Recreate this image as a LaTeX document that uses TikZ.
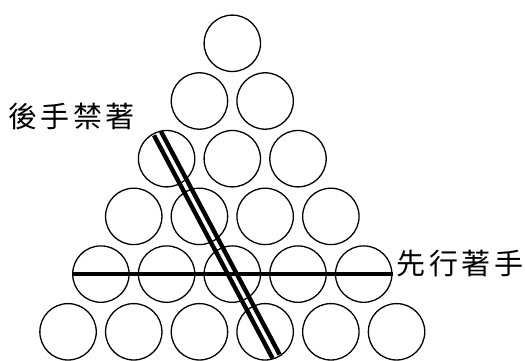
\documentclass[tikz,border=0pt]{standalone}
\usepackage{fontspec}
\newfontfamily\cjk[LetterSpace=12]{Noto Sans CJK TC}
\usetikzlibrary{calc}

\begin{document}
\begin{tikzpicture}[x=1pt,y=1pt]
  \tikzset{Ball/.style={circle, draw, line width=1.3pt, minimum size=56.4pt, inner sep=0pt}}
  \tikzset{Cue/.style={line width=4.4pt}}
  \tikzset{Label/.style={font=\cjk\fontsize{29}{29}\selectfont, inner sep=0pt}}
  \useasboundingbox (0,0) rectangle (525,361);

  \foreach \r in {1,...,6}{
    \foreach \k in {1,...,\r}{
      \node[Ball] (c-\r-\k) at ({232.3+(\k-(\r+1)/2)*65.7}, {317.7-(\r-1)*57.7}) {};
    }
  }

  \draw[Cue] (c-5-1.west) -- (c-5-5.east);

  \coordinate (g-top) at ($(c-5-3)+(118:159.3)$);
  \coordinate (g-end) at ($(c-5-3)+(-62:93.2)$);
  \draw[Cue] ([shift={(28:4)}]g-top) -- ([shift={(28:4)}]g-end);
  \draw[Cue] ([shift={(208:4)}]g-top) -- ([shift={(208:4)}]g-end);

  \node[Label] (late) at (71.7,244.3) {後手禁著};
  \node[Label] (first) at (460,97) {先行著手};
\end{tikzpicture}
\end{document}
